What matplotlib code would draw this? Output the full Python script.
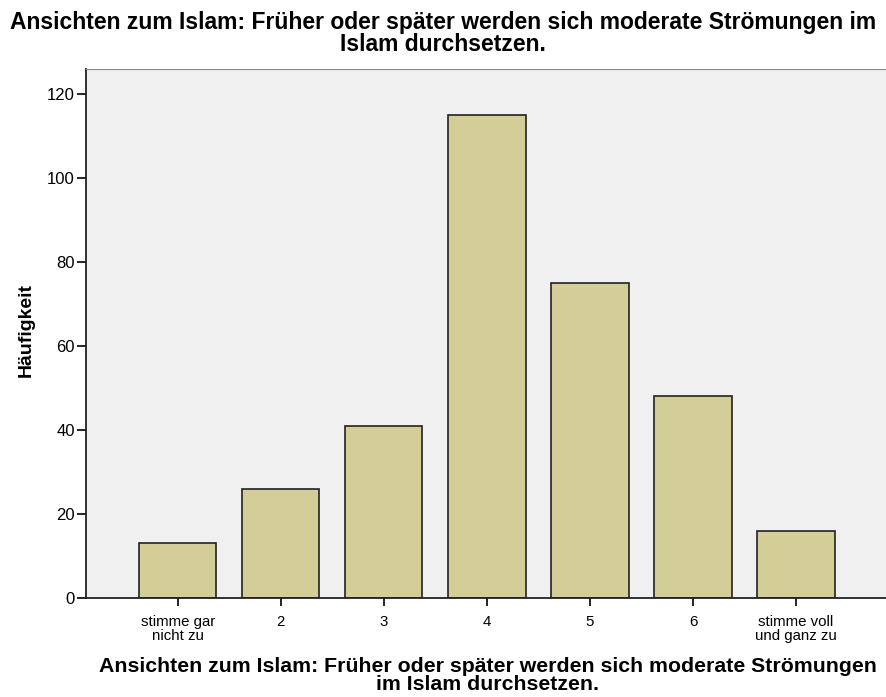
import matplotlib.pyplot as plt

plt.rcParams['font.family'] = ['Liberation Sans', 'DejaVu Sans']

kategorien = ['stimme gar\nnicht zu', '2', '3', '4', '5', '6', 'stimme voll\nund ganz zu']
haeufigkeit = [13, 26, 41, 115, 75, 48, 16]
titel = 'Ansichten zum Islam: Früher oder später werden sich moderate Strömungen im\nIslam durchsetzen.'
xtitel = 'Ansichten zum Islam: Früher oder später werden sich moderate Strömungen\nim Islam durchsetzen.'

W, H = 886, 697
fig = plt.figure(figsize=(W / 100, H / 100), dpi=100)
# plot area in pixels: left 86, right edge of figure, top 69, bottom 598
ax = fig.add_axes([86 / W, 1 - 598 / H, 1 - 86 / W + 0.002, (598 - 69) / H])
ax.set_facecolor('#F0F0F0')

x = list(range(len(kategorien)))
ax.bar(x, haeufigkeit, width=0.75, color='#D3CE97', edgecolor='#222222', linewidth=1.2)

ax.set_xlim(-0.89, 6.89)
ax.set_ylim(0, 126)
ax.set_yticks([0, 20, 40, 60, 80, 100, 120])
ax.set_xticks(x)
ax.set_xticklabels(kategorien, fontsize=10.8, linespacing=0.95)
ax.tick_params(axis='y', labelsize=12, length=6.5, width=1.2, pad=1.5, direction='out')
ax.tick_params(axis='x', length=6, width=1.2, pad=6.5, direction='out')

for s in ['left', 'bottom']:
    ax.spines[s].set_linewidth(1.3)
    ax.spines[s].set_color('#222222')
ax.spines['top'].set_color('#888888')
ax.spines['right'].set_visible(False)

fig.text(26 / W, 1 - 330 / H, 'Häufigkeit', rotation=90, ha='center', va='center',
         fontsize=14, fontweight='bold')
fig.text(488 / W, 1 - 657 / H, xtitel, ha='center', va='top',
         fontsize=15.3, fontweight='bold', linespacing=0.92)
fig.text(0.5, 1 - 11 / H, titel, ha='center', va='top',
         fontsize=16.5, fontweight='bold', linespacing=0.95)

fig.savefig('out.png', dpi=100)
